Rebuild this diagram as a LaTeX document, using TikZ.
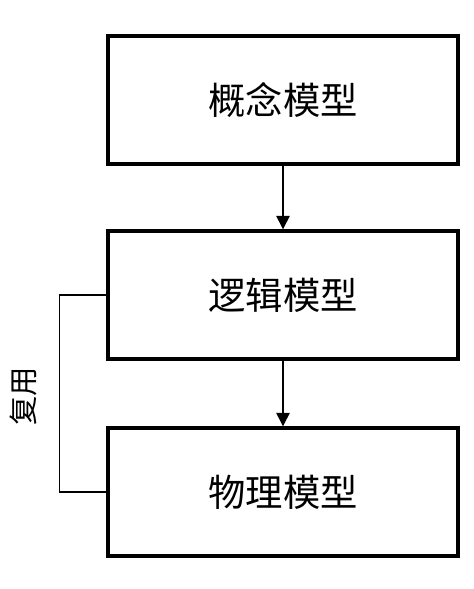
\documentclass[tikz,border=0pt]{standalone}
\usepackage{fontspec}
\setmainfont{Noto Sans CJK SC}
\usetikzlibrary{arrows.meta}

\tikzset{every picture/.style={line width=0.75pt}}
\tikzset{
  modelbox/.style={draw, line width=2.6pt, minimum width=262.5pt, minimum height=96pt,
    inner sep=0pt, font=\fontsize{28}{32}\selectfont},
  flowline/.style={line width=1.1pt, -{Triangle[length=10pt,width=10pt]}},
}

\begin{document}
\begin{tikzpicture}[x=0.75pt,y=0.75pt,yscale=-1,xscale=1]
		\useasboundingbox (0,0) rectangle (474,589);

		% Model boxes
		\node [modelbox] (concept) at (283,100) {概念模型};
		\node [modelbox] (logic) at (283,295) {逻辑模型};
		\node [modelbox] (physical) at (283,492) {物理模型};

		% Arrows between the boxes
		\draw [flowline] (concept.south) -- (logic.north);
		\draw [flowline] (logic.south) -- (physical.north);

		% Reuse bracket
		\draw [line width=1.1pt] (logic.west) -- ++(-47,0) coordinate (bend) |- (physical.west);
		\node [rotate=90, font=\fontsize{22}{24}\selectfont] (reuse) at (23,396) {复用};

\end{tikzpicture}
\end{document}
